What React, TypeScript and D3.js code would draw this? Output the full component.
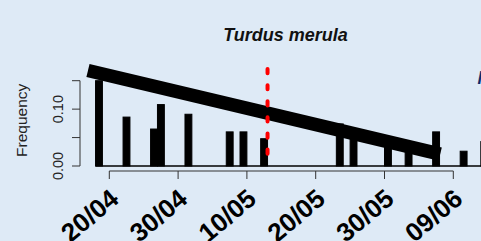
import React, { useRef, useEffect } from "react";
import * as d3 from "d3";

// day-of-year of each daily bin start, and its frequency
const binDays = [108, 112, 116, 117, 121, 127, 129, 132, 143, 145, 150, 153, 157, 161, 164];
const binFreq = [0.15, 0.086, 0.065, 0.108, 0.091, 0.06, 0.06, 0.048, 0.074, 0.052, 0.039, 0.026, 0.06, 0.026, 0.043];

// fitted trend (start / end)
const trendDays = [106.9, 158.1];
const trendFreq = [0.168, 0.021];

// mean date marker
const markerDay = 133;
const markerFreq = [0.016, 0.174];

const xTickDays = [110, 120, 130, 140, 150, 160];
const xTickLabels = ["20/04", "30/04", "10/05", "20/05", "30/05", "09/06"];
const yTicks = [0, 0.05, 0.1, 0.15];
const yTickLabels = ["0.00", "", "0.10", ""];

const W = 481;
const H = 241;
const FONT = "'Liberation Sans', Arial, Helvetica, sans-serif";

const App = () => {
  const svgRef = useRef<SVGSVGElement | null>(null);

  useEffect(() => {
    document.body.style.margin = "0";
    const svg = d3.select(svgRef.current);
    svg.selectAll("*").remove();

    const x = d3.scaleLinear().domain([110, 160]).range([109.3, 453.3]);
    const y = d3.scaleLinear().domain([0, 0.15]).range([166, 80.7]);

    svg.append("rect").attr("width", W).attr("height", H).attr("fill", "#deeaf6");

    // title
    svg
      .append("text")
      .attr("x", 285.5)
      .attr("y", 40.7)
      .attr("text-anchor", "middle")
      .style("font-family", FONT)
      .style("font-size", "18px")
      .style("font-weight", "bold")
      .style("font-style", "italic")
      .attr("fill", "#111")
      .text("Turdus merula");

    // cut-off legend letter at right edge
    svg
      .append("text")
      .attr("x", 477.5)
      .attr("y", 84)
      .style("font-family", FONT)
      .style("font-size", "18px")
      .style("font-weight", "bold")
      .style("font-style", "italic")
      .attr("fill", "#0c2a68")
      .text("N");

    // bars
    svg
      .append("g")
      .selectAll("rect")
      .data(binDays)
      .join("rect")
      .attr("x", (d) => x(d))
      .attr("width", (d) => x(d + 1) - x(d))
      .attr("y", (d, i) => y(binFreq[i]))
      .attr("height", (d, i) => y(0) - y(binFreq[i]))
      .attr("fill", "#000")
      .attr("stroke", "#000")
      .attr("stroke-width", 1);

    // baseline
    svg
      .append("line")
      .attr("x1", x(binDays[0]))
      .attr("x2", W)
      .attr("y1", y(0))
      .attr("y2", y(0))
      .attr("stroke", "#000")
      .attr("stroke-width", 1.3);

    // trend
    svg
      .append("line")
      .attr("x1", x(trendDays[0]))
      .attr("y1", y(trendFreq[0]))
      .attr("x2", x(trendDays[1]))
      .attr("y2", y(trendFreq[1]))
      .attr("stroke", "#000")
      .attr("stroke-width", 13.5)
      .attr("stroke-linecap", "butt");

    // marker
    svg
      .append("line")
      .attr("x1", x(markerDay))
      .attr("x2", x(markerDay))
      .attr("y1", y(markerFreq[1]) + 2)
      .attr("y2", y(markerFreq[0]) - 2)
      .attr("stroke", "#ff0000")
      .attr("stroke-width", 4)
      .attr("stroke-linecap", "round")
      .attr("stroke-dasharray", "4.2,11.9");

    // y axis
    const ya = svg.append("g").attr("stroke", "#333").attr("stroke-width", 1);
    ya.append("line").attr("x1", 80).attr("x2", 80).attr("y1", y(0.15)).attr("y2", y(0));
    ya.selectAll("line.t")
      .data(yTicks)
      .join("line")
      .attr("class", "t")
      .attr("x1", 72)
      .attr("x2", 80)
      .attr("y1", (d) => y(d))
      .attr("y2", (d) => y(d));

    svg
      .append("g")
      .selectAll("text")
      .data(yTicks)
      .join("text")
      .attr("transform", (d) => `translate(62.5,${y(d)}) rotate(-90)`)
      .attr("text-anchor", "middle")
      .style("font-family", FONT)
      .style("font-size", "14.5px")
      .attr("fill", "#222")
      .text((d, i) => yTickLabels[i]);

    svg
      .append("text")
      .attr("transform", `translate(26.5,${(y(0) + y(0.15)) / 2 - 3}) rotate(-90)`)
      .attr("text-anchor", "middle")
      .style("font-family", FONT)
      .style("font-size", "15.5px")
      .attr("fill", "#222")
      .text("Frequency");

    // x axis
    const xa = svg.append("g").attr("stroke", "#333").attr("stroke-width", 1);
    xa.append("line")
      .attr("x1", x(xTickDays[0]))
      .attr("x2", x(xTickDays[xTickDays.length - 1]))
      .attr("y1", 171)
      .attr("y2", 171);
    xa.selectAll("line.t")
      .data(xTickDays)
      .join("line")
      .attr("class", "t")
      .attr("x1", (d) => x(d))
      .attr("x2", (d) => x(d))
      .attr("y1", 171)
      .attr("y2", 179);

    svg
      .append("g")
      .selectAll("text")
      .data(xTickDays)
      .join("text")
      .attr("transform", (d) => `translate(${x(d) - 1},187) rotate(-40)`)
      .attr("text-anchor", "end")
      .attr("dy", "0.72em")
      .style("font-family", FONT)
      .style("font-size", "26px")
      .style("font-weight", "bold")
      .attr("fill", "#000")
      .text((d, i) => xTickLabels[i]);
  }, []);

  return <svg ref={svgRef} width={W} height={H} style={{ display: "block" }} />;
};

export default App;
